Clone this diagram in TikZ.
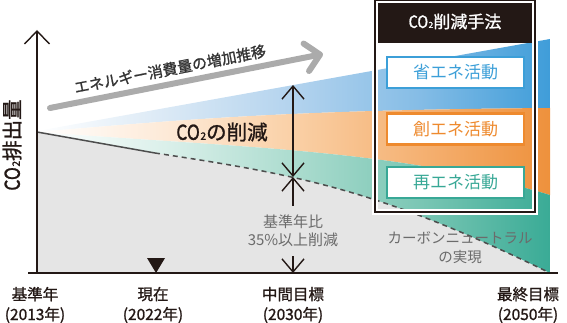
\documentclass[tikz,border=0pt]{standalone}
\usepackage{fontspec}
\setmainfont{Noto Sans CJK JP}
\newfontfamily\medfont[FakeBold=1.2]{Noto Sans CJK JP}
\usetikzlibrary{arrows.meta}
\definecolor{ink}{HTML}{231815}
\definecolor{graytxt}{HTML}{6B6B6B}
\definecolor{etxt}{HTML}{333333}
\definecolor{bggray}{HTML}{E5E5E5}
\definecolor{lineg}{HTML}{4D4D4D}
\definecolor{arrowg}{HTML}{ABABAB}
\definecolor{bA}{HTML}{D9E8F5}
\definecolor{bB}{HTML}{B3D3EE}
\definecolor{bC}{HTML}{86BDE6}
\definecolor{bD}{HTML}{3F9DD9}
\definecolor{oA}{HTML}{FDE9D6}
\definecolor{oB}{HTML}{FAD0A6}
\definecolor{oC}{HTML}{F5B274}
\definecolor{oD}{HTML}{EE913C}
\definecolor{tA}{HTML}{D9EFE9}
\definecolor{tB}{HTML}{ACDCCF}
\definecolor{tC}{HTML}{7CC7B5}
\definecolor{tD}{HTML}{3AAB96}
\definecolor{lblue}{HTML}{3C9FD8}
\definecolor{lorange}{HTML}{EE8A2E}
\definecolor{lteal}{HTML}{38A896}
\pgfdeclarehorizontalshading{bluesh}{100bp}{color(0bp)=(white); color(25bp)=(white); color(38bp)=(bA); color(50bp)=(bB); color(62bp)=(bC); color(75bp)=(bD); color(100bp)=(bD)}
\pgfdeclarehorizontalshading{orangesh}{100bp}{color(0bp)=(white); color(25bp)=(white); color(38bp)=(oA); color(50bp)=(oB); color(62bp)=(oC); color(75bp)=(oD); color(100bp)=(oD)}
\pgfdeclarehorizontalshading{tealsh}{100bp}{color(0bp)=(white); color(25bp)=(white); color(38bp)=(tA); color(50bp)=(tB); color(62bp)=(tC); color(75bp)=(tD); color(100bp)=(tD)}
\newcommand\cotwo{\scalebox{0.85}[1]{CO}\kern0.03em\scalebox{0.5}{2}}
\begin{document}
\begin{tikzpicture}[x=1pt,y=-1pt,
  axisline/.style={draw=ink, line width=1.4pt},
  axisarrow/.style={draw=ink, line width=1.4pt, arrows={-Straight Barb[length=13pt,width=25pt]}},
  dblarrow/.style={draw=ink, line width=1.4pt, arrows={Straight Barb[length=13pt,width=22pt]-Straight Barb[length=13pt,width=22pt]}},
  onearrow/.style={draw=ink, line width=1.4pt, arrows={-Straight Barb[length=13pt,width=22pt]}},
  grayarrow/.style={draw=arrowg, line width=6pt, line cap=round, arrows={-Straight Barb[length=14pt,width=28pt,round]}},
  graysolid/.style={draw=lineg, line width=1.5pt},
  graydash/.style={draw=lineg, line width=1.5pt, dash pattern=on 5pt off 4pt},
  graytext/.style={text=graytxt, align=center, font=\fontsize{15}{18}\selectfont},
  yearlabel/.style={text=ink, align=center, font=\medfont\fontsize{15.5}{20}\selectfont, inner sep=0pt},
  frame/.style={draw=ink, line width=2.5pt, preaction={draw=white, line width=6pt}, minimum width=160pt, minimum height=212pt, inner sep=0pt},
  header/.style={fill=ink, text=white, minimum width=160pt, minimum height=43pt, inner sep=0pt, font=\medfont\fontsize{17}{20}\selectfont},
  methodbox/.style={draw=#1, text=#1, fill=white, line width=2.2pt, minimum width=137pt, minimum height=31pt, inner sep=0pt, font=\fontsize{17}{20}\selectfont}
]
\useasboundingbox (0,0) rectangle (567,323);
% gray region
\fill[bggray] (37,132) -- (155,153) .. controls (300,175) and (380,190) .. (550,273) -- (37,273) -- cycle;
% wedges
\shade[shading=bluesh] (37,131) -- (550,39) -- (550,108) .. controls (300,110) and (200,118) .. (37,132) -- cycle;
\shade[shading=orangesh] (37,132) .. controls (200,118) and (300,110) .. (550,108) -- (550,195) .. controls (400,150) and (250,148) .. (37,132) -- cycle;
\shade[shading=tealsh] (37,132) .. controls (250,148) and (400,150) .. (550,195) -- (550,273) .. controls (380,190) and (300,175) .. (155,153) -- cycle;
% emission lines
\draw[graysolid] (37,132) -- (155,153);
\draw[graydash] (155,153) .. controls (300,175) and (380,190) .. (550,273);
% axes
\coordinate (origin) at (37,273);
\coordinate (ytop) at (37,30);
\coordinate (xleft) at (28,273);
\coordinate (xright) at (558,273);
\draw[axisline] (xleft) -- (xright);
\draw[axisarrow] (origin) -- (ytop);
\node[rotate=90, text=ink, font=\medfont\fontsize{20.5}{22}\selectfont] (ylabel) at (12,145) {\cotwo 排出量};
% energy arrow
\coordinate (gs) at (50,108);
\coordinate (ge) at (323,54);
\draw[grayarrow] (gs) -- (ge);
\node[rotate=11, text=etxt, font=\medfont\fontsize{15}{17}\selectfont] (etext) at (170,69) {エネルギー消費量の増加推移};
% reduction label
\node[text=ink, font=\medfont\fontsize{20.5}{22}\selectfont] (red2) at (222,132) {\cotwo の削減};
% double arrows
\coordinate (ta) at (293,85);
\coordinate (xa) at (293,177);
\coordinate (ba) at (293,273);
\node[graytext, inner xsep=2pt, inner ysep=9pt] (red) at (293,231) {基準年比\\35\%以上削減};
\draw[dblarrow] (ta) -- (xa);
\draw[onearrow] (red) -- (xa);
\draw[onearrow] (red) -- (ba);
% now marker
\fill[ink] (147,258) -- (165,258) -- (156,273) -- cycle;
% carbon neutral
\node[text=graytxt, align=center, font=\fontsize{14.5}{19}\selectfont] (cn) at (460,247.5) {カーボンニュートラル\\の実現};
% method box
\node[header] (hdr) at (455,21.5) {\cotwo 削減手法};
\node[frame] (frm) at (455,106) {};
\node[methodbox=lblue] (m1) at (455.5,72.5) {省エネ活動};
\node[methodbox=lorange] (m2) at (455.5,129) {創エネ活動};
\node[methodbox=lteal] (m3) at (455.5,182.5) {再エネ活動};
% year labels
\node[yearlabel] (y1) at (35,305) {基準年\\(2013年)};
\node[yearlabel] (y2) at (153,305) {現在\\(2022年)};
\node[yearlabel] (y3) at (293,305) {中間目標\\(2030年)};
\node[yearlabel] (y4) at (528,305) {最終目標\\(2050年)};
\end{tikzpicture}
\end{document}
